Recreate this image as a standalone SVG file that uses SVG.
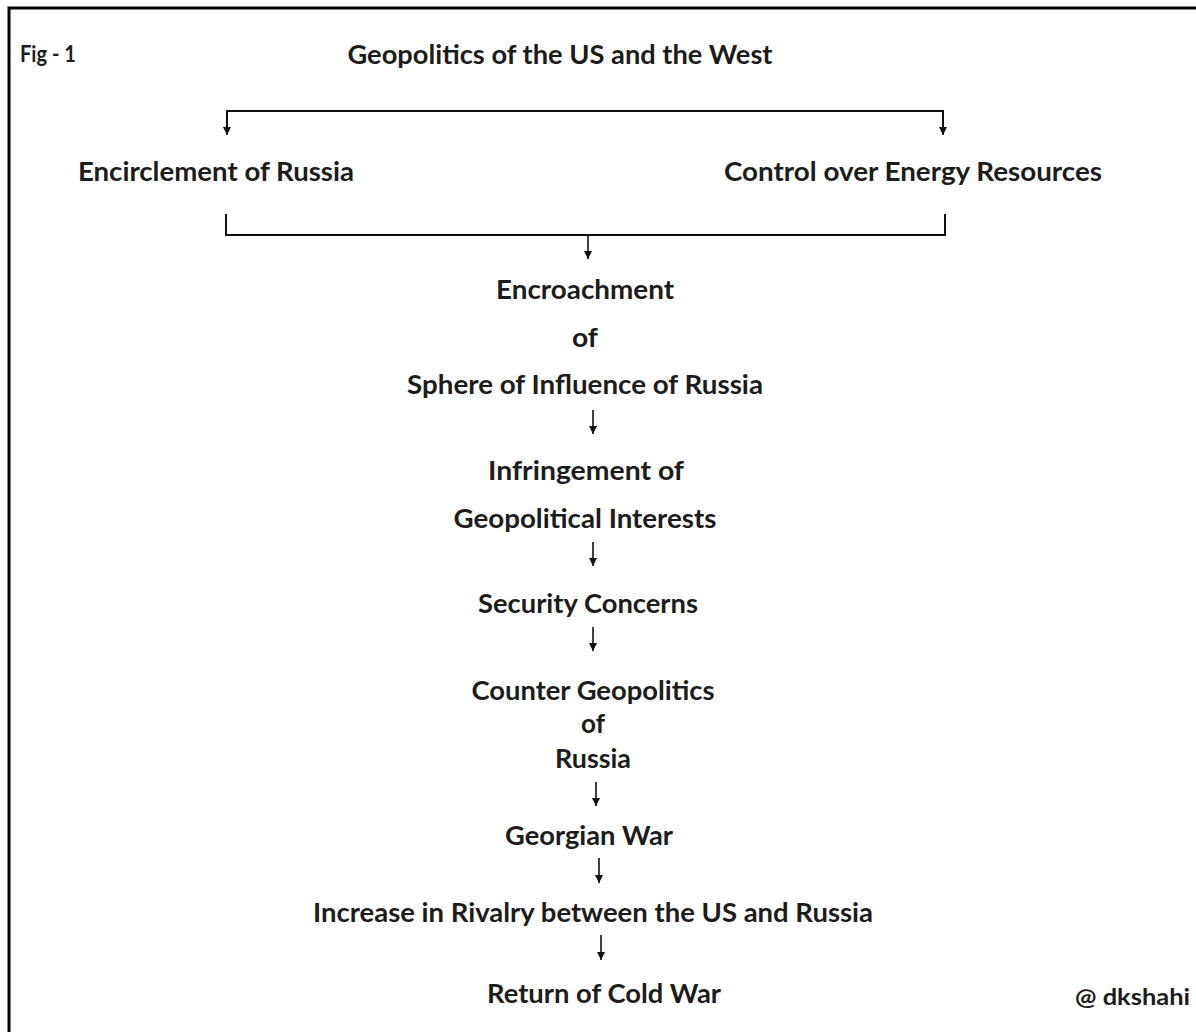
<svg xmlns="http://www.w3.org/2000/svg" width="1196" height="1032" viewBox="0 0 1196 1032">
<defs>
<marker id="ah" viewBox="0 0 8 10" refX="8" refY="5" markerWidth="8" markerHeight="10" markerUnits="userSpaceOnUse" orient="auto">
<path d="M0,1 L8,5 L0,9 Z" fill="#111"/>
</marker>
<style>
.t{font-family:Lato,"Liberation Sans",sans-serif;font-weight:bold;font-size:27px;fill:#1c1c1c;text-anchor:middle}
.s{font-family:Lato,"Liberation Sans",sans-serif;font-weight:bold;font-size:22px;fill:#1c1c1c}
.c{fill:none;stroke:#111;stroke-width:2}
.a{fill:none;stroke:#111;stroke-width:1.6;marker-end:url(#ah)}
</style>
</defs>
<rect x="0" y="0" width="1196" height="1032" fill="#fff"/>
<path d="M9,1040 L9,8 L1200,8" fill="none" stroke="#000" stroke-width="3"/>
<g id="fig-label"><text class="s" x="20" y="62" textLength="56" lengthAdjust="spacingAndGlyphs">Fig - 1</text></g>
<g id="title"><text class="t" x="560" y="64" textLength="425" lengthAdjust="spacingAndGlyphs">Geopolitics of the US and the West</text></g>
<g id="encirclement"><text class="t" x="216" y="181" textLength="276" lengthAdjust="spacingAndGlyphs">Encirclement of Russia</text></g>
<g id="energy"><text class="t" x="913" y="181" textLength="378" lengthAdjust="spacingAndGlyphs">Control over Energy Resources</text></g>
<g id="encroachment">
<text class="t" x="585" y="299" textLength="178" lengthAdjust="spacingAndGlyphs">Encroachment</text>
<text class="t" x="585" y="347" textLength="26" lengthAdjust="spacingAndGlyphs">of</text>
<text class="t" x="585" y="394" textLength="356" lengthAdjust="spacingAndGlyphs">Sphere of Influence of Russia</text>
</g>
<g id="infringement">
<text class="t" x="586" y="480" textLength="196" lengthAdjust="spacingAndGlyphs">Infringement of</text>
<text class="t" x="585" y="528" textLength="263" lengthAdjust="spacingAndGlyphs">Geopolitical Interests</text>
</g>
<g id="security"><text class="t" x="588" y="613" textLength="220" lengthAdjust="spacingAndGlyphs">Security Concerns</text></g>
<g id="counter">
<text class="t" x="593" y="700" textLength="243" lengthAdjust="spacingAndGlyphs">Counter Geopolitics</text>
<text class="t" x="593" y="733" textLength="24" lengthAdjust="spacingAndGlyphs">of</text>
<text class="t" x="593" y="768" textLength="76" lengthAdjust="spacingAndGlyphs">Russia</text>
</g>
<g id="georgian"><text class="t" x="589" y="845" textLength="168" lengthAdjust="spacingAndGlyphs">Georgian War</text></g>
<g id="rivalry"><text class="t" x="593" y="922" textLength="560" lengthAdjust="spacingAndGlyphs">Increase in Rivalry between the US and Russia</text></g>
<g id="coldwar"><text class="t" x="604" y="1003" textLength="234" lengthAdjust="spacingAndGlyphs">Return of Cold War</text></g>
<g id="credit"><text class="s" x="1075" y="1005" textLength="115" lengthAdjust="spacingAndGlyphs">@ dkshahi</text></g>
<g id="connectors">
<path class="c" d="M227,134 L227,111 L943,111 L943,134"/>
<path class="a" d="M227,111 L227,135"/>
<path class="a" d="M943,111 L943,135"/>
<path class="c" d="M226,214 L226,235 L945,235 L945,214"/>
<path class="a" d="M588,235 L588,259"/>
<path class="a" d="M593,410 L593,434"/>
<path class="a" d="M593,542 L593,566"/>
<path class="a" d="M593,627 L593,651"/>
<path class="a" d="M596,782 L596,806"/>
<path class="a" d="M599,858 L599,883"/>
<path class="a" d="M601,935 L601,960"/>
</g>
</svg>
